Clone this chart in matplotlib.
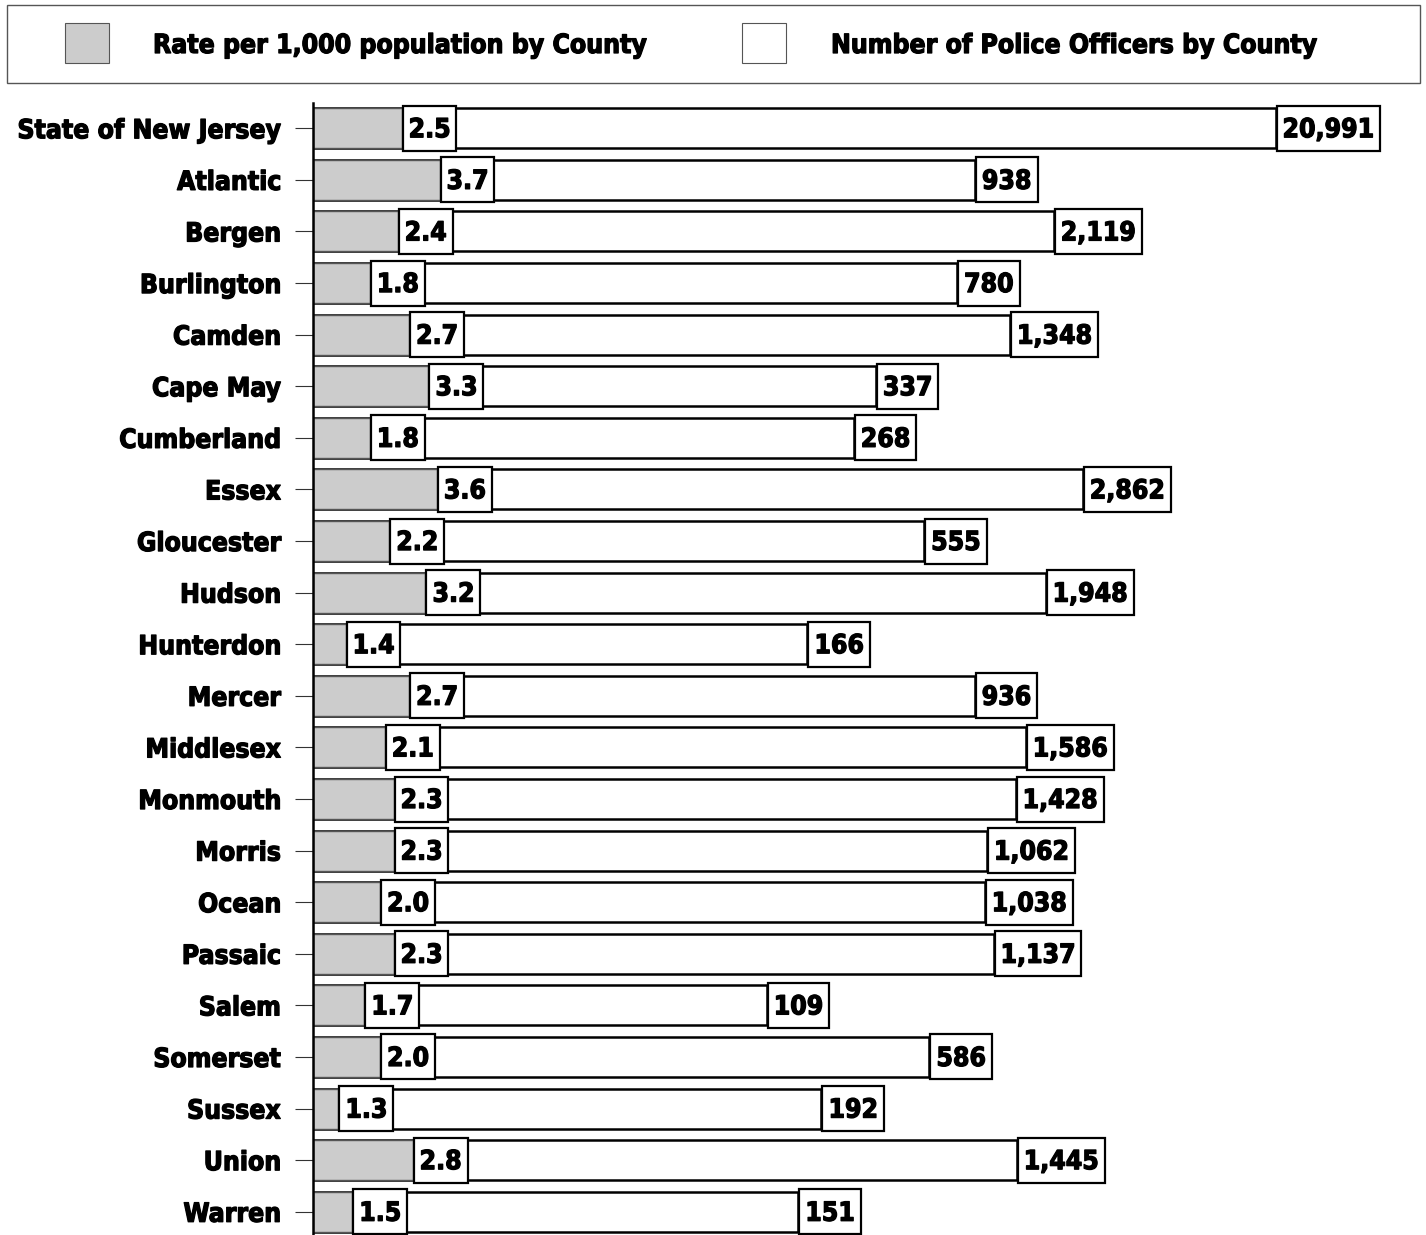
import matplotlib
matplotlib.use("Agg")
import matplotlib.pyplot as plt
from matplotlib.patches import Rectangle
import matplotlib.patheffects as pe

counties = ["State of New Jersey", "Atlantic", "Bergen", "Burlington", "Camden", "Cape May",
            "Cumberland", "Essex", "Gloucester", "Hudson", "Hunterdon", "Mercer", "Middlesex",
            "Monmouth", "Morris", "Ocean", "Passaic", "Salem", "Somerset", "Sussex", "Union", "Warren"]
rates = [2.5, 3.7, 2.4, 1.8, 2.7, 3.3, 1.8, 3.6, 2.2, 3.2, 1.4, 2.7, 2.1, 2.3, 2.3, 2.0, 2.3,
         1.7, 2.0, 1.3, 2.8, 1.5]
officers = [20991, 938, 2119, 780, 1348, 337, 268, 2862, 555, 1948, 166, 936, 1586, 1428,
            1062, 1038, 1137, 109, 586, 192, 1445, 151]
legend_labels = ["Rate per 1,000 population by County", "Number of Police Officers by County"]

BOLDER = [pe.withStroke(linewidth=0.9, foreground="black")]
FONT = dict(family="DejaVu Sans", stretch="condensed", weight="bold", path_effects=BOLDER)
W, H = 1426, 1235
fig = plt.figure(figsize=(W / 100, H / 100), dpi=100)

def fx(px):
    return px / W

def fy(py):
    return 1 - py / H

ax = fig.add_axes([fx(313), 0, fx(1420) - fx(313), fy(103)])
ax.set_xscale("log")
ax.set_xlim(1, 10 ** ((1420 - 313) / 222.7))
ax.set_ylim(21.45, -0.49)

ypos = list(range(len(counties)))
ax.barh(ypos, [o - 1 for o in officers], left=1, height=0.775, color="white",
        edgecolor="black", linewidth=1.8, zorder=2)
ax.barh(ypos, [r - 1 for r in rates], left=1, height=0.775, color="#cccccc",
        edgecolor="#555555", linewidth=1.0, zorder=3)

PADX = 6
BOX_H = 45
labels = []
for y, r, o in zip(ypos, rates, officers):
    for v, txt in ((r, f"{r:.1f}"), (o, f"{o:,}")):
        t = ax.annotate(txt, xy=(v, y), xytext=(PADX + 1, -2), textcoords="offset pixels",
                        ha="left", va="center", fontsize=19, **FONT, zorder=6)
        labels.append((t, v, y))

ax.set_yticks(ypos)
ax.set_yticklabels(counties, fontsize=19, **FONT)
ax.tick_params(axis="y", length=13, width=0.8, pad=10, color="#333333")
ax.tick_params(axis="x", bottom=False, labelbottom=False, which="both")
for s in ("top", "right", "bottom"):
    ax.spines[s].set_visible(False)
ax.spines["left"].set_linewidth(1.8)
ax.spines["left"].set_zorder(7)

# label boxes sized from the rendered text
fig.canvas.draw()
renderer = fig.canvas.get_renderer()
for t, v, y in labels:
    bb = t.get_window_extent(renderer)
    x0, yc = ax.transData.transform((v, y))
    rect = Rectangle((x0 + 1, yc - BOX_H / 2), bb.width + 2 * PADX, BOX_H, transform=None,
                     facecolor="white", edgecolor="black", linewidth=1.6, zorder=5)
    ax.add_artist(rect)

# legend
fig.patches.append(Rectangle((fx(7), fy(83)), fx(1420) - fx(7), fy(5) - fy(83),
                             transform=fig.transFigure, facecolor="white",
                             edgecolor="#555555", linewidth=1.0))
fig.patches.append(Rectangle((fx(65), fy(63)), fx(44), fy(23) - fy(63),
                             transform=fig.transFigure, facecolor="#cccccc",
                             edgecolor="#555555", linewidth=0.8))
fig.patches.append(Rectangle((fx(742), fy(63)), fx(44), fy(23) - fy(63),
                             transform=fig.transFigure, facecolor="white",
                             edgecolor="#555555", linewidth=0.8))
fig.text(fx(153), fy(46), legend_labels[0], ha="left", va="center", fontsize=19, **FONT)
fig.text(fx(831), fy(46), legend_labels[1], ha="left", va="center", fontsize=19, **FONT)

fig.savefig("out.png", dpi=100, facecolor="white")
